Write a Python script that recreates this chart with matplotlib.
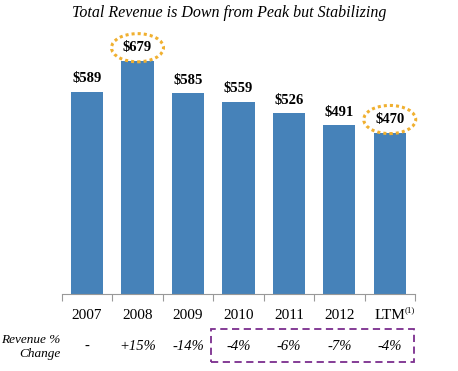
import matplotlib
matplotlib.use("Agg")
import matplotlib.pyplot as plt
import matplotlib.transforms as mtransforms
from matplotlib.patches import Ellipse, Rectangle

years = ["2007", "2008", "2009", "2010", "2011", "2012", "LTM"]
revenue = [589, 679, 585, 559, 526, 491, 470]
pct_change = ["-", "+15%", "-14%", "-4%", "-6%", "-7%", "-4%"]
circled = [1, 6]

serif = "Liberation Serif"
bar_color = "#4682B9"

fig = plt.figure(figsize=(4.58, 3.71), dpi=100)
ax = fig.add_axes([0.135, 0.2075, 0.771, 0.712])

x = list(range(len(years)))
ax.bar(x, revenue, width=0.64, color=bar_color)
ax.set_xlim(-0.5, len(years) - 0.5)
ax.set_ylim(0, 769)

for s in ["top", "right", "left"]:
    ax.spines[s].set_visible(False)
ax.spines["bottom"].set_color("#999999")
ax.set_yticks([])
ax.set_xticks([i - 0.5 for i in range(len(years) + 1)], minor=False)
ax.set_xticklabels([])
ax.tick_params(axis="x", length=5, color="#999999", direction="out")
ax.set_xticks(x, minor=True)
ax.set_xticklabels(years, minor=True, fontsize=11, family=serif)
ax.tick_params(axis="x", which="minor", length=0, pad=11)

trans = mtransforms.blended_transform_factory(ax.transData, ax.transAxes)
# footnote marker on LTM
ax.text(x[-1] + 0.3, -0.062, "(1)", transform=trans, fontsize=6.5,
        family=serif, ha="left", va="center")

off = 38
for i, v in enumerate(revenue):
    ax.text(i, v + off, f"${v}", ha="center", va="center",
            fontsize=10.5, fontweight="bold", family=serif)
for i in circled:
    ax.add_patch(Ellipse((i, revenue[i] + off), 1.03, 82, fill=False,
                         edgecolor="#F0B030", lw=2.2, linestyle=(0, (1, 1)),
                         clip_on=False))

for i, p in enumerate(pct_change):
    ax.text(i, -0.2, p, ha="center", va="center", transform=trans,
            fontsize=10.5, style="italic", family=serif)
ax.text(-0.52, -0.2, "Revenue %\nChange", ha="right", va="center",
        transform=trans, fontsize=9.5, style="italic", family=serif,
        linespacing=1.25)
ax.add_patch(Rectangle((2.46, -0.258), 4.02, 0.125, transform=trans,
                       fill=False, edgecolor="#7B2D8E", lw=1.3,
                       linestyle=(0, (4, 2.5)), clip_on=False))

fig.text(0.5, 0.965, "Total Revenue is Down from Peak but Stabilizing",
         ha="center", va="center", fontsize=11.5, style="italic", family=serif)

fig.savefig("out.png", dpi=100)
